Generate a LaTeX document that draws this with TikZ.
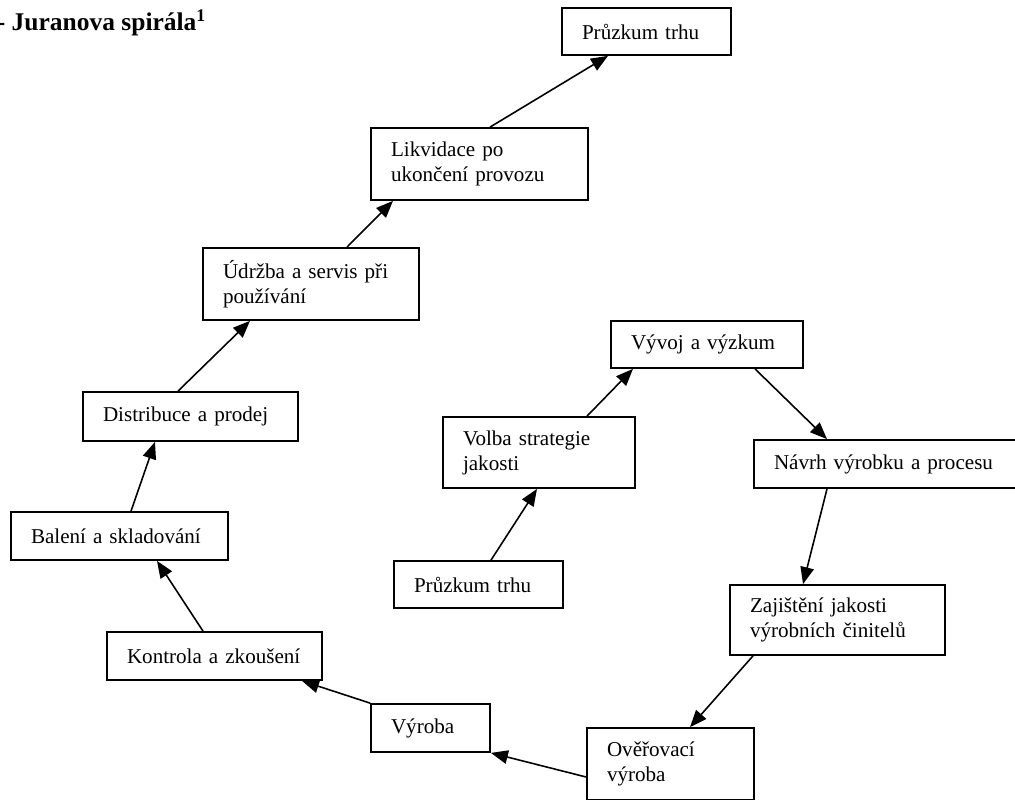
\documentclass[tikz,border=0pt]{standalone}
\usepackage{fontspec}
\setmainfont{Liberation Serif}
\usepackage{tikz}
\usetikzlibrary{arrows.meta}
\tikzset{>={Triangle[length=0.34cm,width=0.27cm]}}
\tikzset{
	stage/.style={draw, rectangle, line width=1pt, align=left, inner xsep=0.4cm, inner ysep=0pt, font=\fontsize{12}{14.2}\selectfont},
	flow/.style={line width=0.9pt,->}
}

\begin{document}
\begin{tikzpicture}
		\useasboundingbox (0,0) rectangle (20.3,-16);
		\node[anchor=base west, inner sep=0pt, font=\fontsize{14.5}{17}\bfseries\selectfont] (title) at (-0.07,-0.62) {- Juranova spirála\textsuperscript{1}};
		% outer spiral
		\node[stage, text width=2.58cm, minimum height=0.94cm] (top) at (12.93,-0.63) {Průzkum trhu};
		\node[stage, text width=3.54cm, minimum height=1.44cm] (likv) at (9.59,-3.28) {Likvidace po\\ukončení provozu};
		\node[stage, text width=3.52cm, minimum height=1.44cm] (udrz) at (6.22,-5.68) {Údržba a servis při\\používání};
		\node[stage, text width=3.50cm, minimum height=0.98cm] (dist) at (3.81,-8.33) {Distribuce a prodej};
		\node[stage, text width=3.54cm, minimum height=0.96cm] (bal) at (2.39,-10.72) {Balení a skladování};
		\node[stage, text width=3.50cm, minimum height=0.96cm] (kontr) at (4.29,-13.12) {Kontrola a zkoušení};
		\node[stage, text width=1.58cm, minimum height=0.96cm] (vyr) at (8.61,-14.56) {Výroba};
		\node[stage, text width=2.54cm, minimum height=1.44cm] (over) at (13.41,-15.28) {Ověřovací\\výroba};
		% inner spiral
		\node[stage, text width=3.50cm, minimum height=1.40cm] (zaj) at (16.75,-12.40) {Zajištění jakosti\\výrobních činitelů};
		\node[stage, text width=4.52cm, minimum height=0.96cm] (navrh) at (17.74,-9.28) {Návrh výrobku a procesu};
		\node[stage, text width=3.04cm, minimum height=0.94cm] (vyv) at (14.14,-6.89) {Vývoj a výzkum};
		\node[stage, text width=3.04cm, minimum height=1.42cm] (volba) at (10.78,-9.05) {Volba strategie\\jakosti};
		\node[stage, text width=2.58cm, minimum height=0.94cm] (trh) at (9.57,-11.69) {Průzkum trhu};
		% connectors
		\draw[flow] ([xshift=0.25cm]trh.north) -- ([xshift=-0.04cm]volba.south);
		\draw[flow] ([xshift=0.96cm]volba.north) -- ([xshift=-1.48cm]vyv.south);
		\draw[flow] ([xshift=0.96cm]vyv.south) -- ([xshift=-1.2cm]navrh.north);
		\draw[flow] ([xshift=-1.2cm]navrh.south) -- ([xshift=-0.69cm]zaj.north);
		\draw[flow] ([xshift=-1.69cm]zaj.south) -- ([xshift=0.39cm]over.north);
		\draw[flow] ([yshift=-0.26cm]over.west) -- (vyr.south east);
		\draw[flow] (vyr.north west) -- ([xshift=1.75cm]kontr.south);
		\draw[flow] ([xshift=-0.23cm]kontr.north) -- ([xshift=0.75cm]bal.south);
		\draw[flow] ([xshift=0.23cm]bal.north) -- ([xshift=-0.71cm]dist.south);
		\draw[flow] ([xshift=-0.25cm]dist.north) -- ([xshift=-1.22cm]udrz.south);
		\draw[flow] ([xshift=0.72cm]udrz.north) -- ([xshift=-1.73cm]likv.south);
		\draw[flow] ([xshift=0.21cm]likv.north) -- ([xshift=-0.77cm]top.south);
	\end{tikzpicture}
\end{document}
